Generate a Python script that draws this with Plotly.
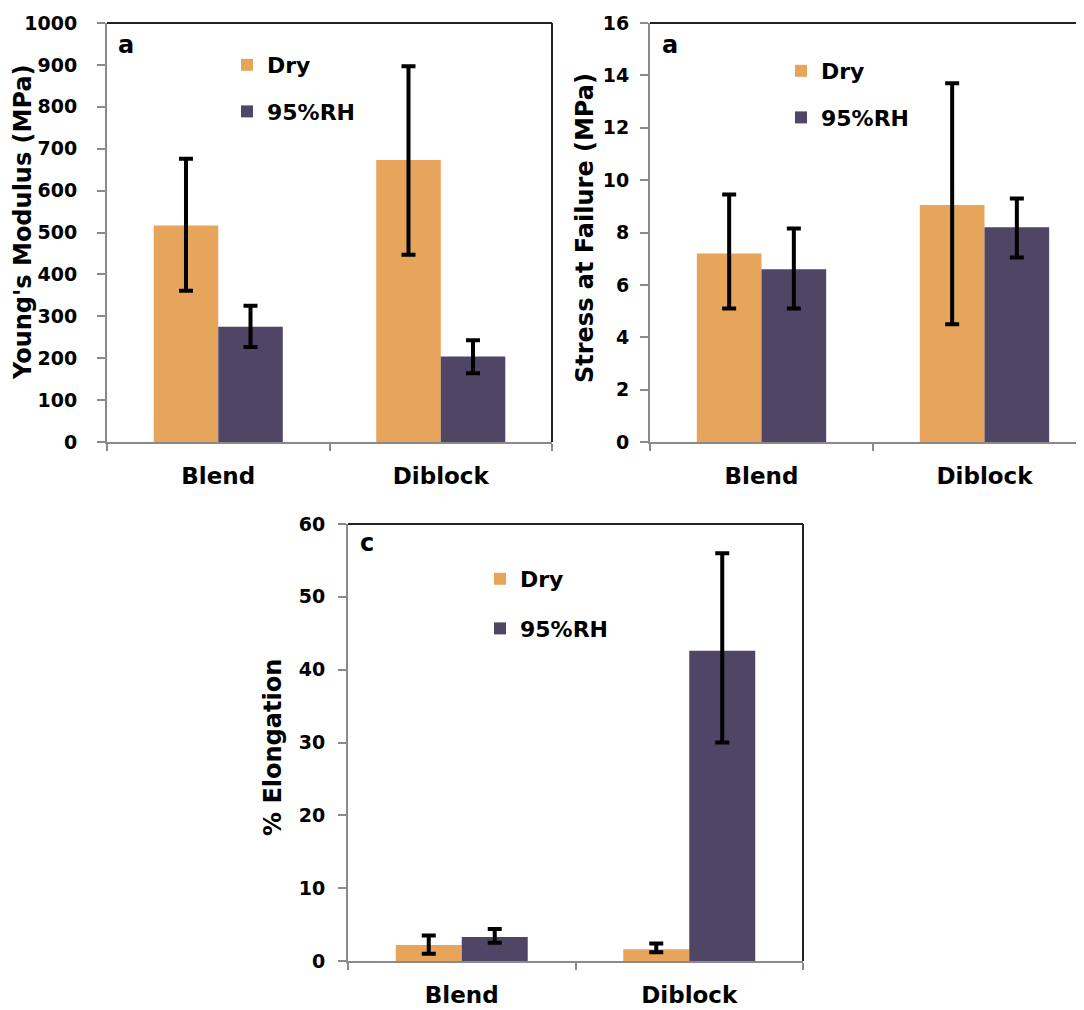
import plotly.graph_objects as go

W, H = 1084, 1010
OFF = 8  # page body margin offset in screen pixels

categories = ["Blend", "Diblock"]
series_names = ["Dry", "95%RH"]
colors = ["#E7A45B", "#4F4564"]

# Young's modulus (MPa)
modulus_dry = [517, 673]
modulus_dry_hi = [676, 897]
modulus_dry_lo = [361, 447]
modulus_rh = [275, 204]
modulus_rh_hi = [325, 243]
modulus_rh_lo = [227, 164]

# Stress at failure (MPa)
stress_dry = [7.2, 9.05]
stress_dry_hi = [9.45, 13.7]
stress_dry_lo = [5.1, 4.5]
stress_rh = [6.6, 8.2]
stress_rh_hi = [8.15, 9.3]
stress_rh_lo = [5.1, 7.05]

# Elongation (%)
elong_dry = [2.2, 1.6]
elong_dry_hi = [3.5, 2.4]
elong_dry_lo = [1.0, 1.2]
elong_rh = [3.3, 42.6]
elong_rh_hi = [4.4, 56.0]
elong_rh_lo = [2.5, 30.0]

y_ticks_mod = list(range(0, 1001, 100))
y_ticks_str = list(range(0, 17, 2))
y_ticks_el = list(range(0, 61, 10))

FONT = "DejaVu Sans"
AXIS_GRAY = "#8a8a8a"


def px(x):
    return (x - OFF) / W


def py(y):
    return 1 - (y - OFF) / H


fig = go.Figure()

panels = [
    dict(ax="", leg="legend",
         vals=[(modulus_dry, modulus_dry_hi, modulus_dry_lo), (modulus_rh, modulus_rh_hi, modulus_rh_lo)]),
    dict(ax="2", leg="legend2",
         vals=[(stress_dry, stress_dry_hi, stress_dry_lo), (stress_rh, stress_rh_hi, stress_rh_lo)]),
    dict(ax="3", leg="legend3",
         vals=[(elong_dry, elong_dry_hi, elong_dry_lo), (elong_rh, elong_rh_hi, elong_rh_lo)]),
]

for p in panels:
    for i, (v, hi, lo) in enumerate(p["vals"]):
        fig.add_trace(go.Bar(
            x=categories, y=v, name=series_names[i],
            marker=dict(color=colors[i], line=dict(width=0)),
            error_y=dict(type="data", symmetric=False,
                         array=[h - a for h, a in zip(hi, v)],
                         arrayminus=[a - l for a, l in zip(v, lo)],
                         color="black", thickness=4, width=7),
            xaxis="x" + p["ax"], yaxis="y" + p["ax"],
            legend=p["leg"], legendgroup=p["leg"] + str(i),
        ))

tickfont = dict(family=FONT, size=19, color="black", weight="bold")
catfont = dict(family=FONT, size=23, color="black", weight="bold")


def xaxis(domain, anchor, rng):
    return dict(domain=domain, anchor=anchor, range=rng, type="category",
                showline=True, linecolor=AXIS_GRAY, linewidth=2,
                ticks="outside", tickson="boundaries", ticklen=7, tickcolor=AXIS_GRAY,
                tickwidth=2, showgrid=False, zeroline=False, tickfont=catfont,
                ticklabelstandoff=12, automargin=False)


def yaxis(domain, anchor, rng, tickvals, standoff):
    return dict(domain=domain, anchor=anchor, range=rng, tickvals=tickvals,
                showline=True, linecolor=AXIS_GRAY, linewidth=2,
                ticks="outside", ticklen=8, tickcolor=AXIS_GRAY, tickwidth=2,
                showgrid=False, zeroline=False, tickfont=tickfont,
                ticklabelstandoff=standoff, automargin=False)


fig.update_layout(
    width=W, height=H, margin=dict(l=0, r=0, t=0, b=0, autoexpand=False),
    paper_bgcolor="white", plot_bgcolor="white",
    barmode="group", bargap=0.42, bargroupgap=0,
    showlegend=True,
    xaxis=xaxis([px(107), px(552)], "y", [-0.5, 1.5]),
    yaxis=yaxis([py(442), py(23)], "x", [0, 1000], y_ticks_mod, 16),
    xaxis2=xaxis([px(650), px(W)], "y2", [-0.5, -0.5 + (W - 650) / 223.0]),
    yaxis2=yaxis([py(442), py(23)], "x2", [0, 16], y_ticks_str, 7),
    xaxis3=xaxis([px(348), px(803)], "y3", [-0.5, 1.5]),
    yaxis3=yaxis([py(961), py(524)], "x3", [0, 60], y_ticks_el, 9),
)

legfont = dict(family=FONT, size=22, color="black", weight="bold")
for name, (lx, ly, gap) in {"legend": (227, 44, 15), "legend2": (781, 50, 15),
                            "legend3": (480, 558, 18)}.items():
    fig.update_layout({name: dict(x=px(lx), y=py(ly), xanchor="left", yanchor="top",
                                  font=legfont, bgcolor="rgba(0,0,0,0)",
                                  traceorder="grouped", tracegroupgap=gap,
                                  itemsizing="constant")})

# top / right frame lines (black)
for ax, right in [("", True), ("2", False), ("3", True)]:
    xr = "x" + ax + " domain"
    yr = "y" + ax + " domain"
    fig.add_shape(type="line", xref=xr, yref=yr, x0=0, x1=1, y0=1, y1=1,
                  line=dict(color="#222222", width=2))
    if right:
        fig.add_shape(type="line", xref=xr, yref=yr, x0=1, x1=1, y0=0, y1=1,
                      line=dict(color="#222222", width=2))

# panel letters
for txt, (x, y) in [("a", (126, 45)), ("a", (670, 45)), ("c", (367, 543))]:
    fig.add_annotation(text=txt, x=px(x), y=py(y), xref="paper", yref="paper",
                       showarrow=False, xanchor="center", yanchor="middle",
                       font=dict(family=FONT, size=24, color="black", weight="bold"))

# axis titles
for txt, (x, y) in [("Young's Modulus (MPa)", (23, 222)),
                    ("Stress at Failure (MPa)", (585, 228)),
                    ("% Elongation", (273, 748))]:
    fig.add_annotation(text=txt, x=px(x), y=py(y), xref="paper", yref="paper",
                       showarrow=False, textangle=-90, xanchor="center", yanchor="middle",
                       font=dict(family=FONT, size=24, color="black", weight="bold"))

fig.write_html("out.html")
